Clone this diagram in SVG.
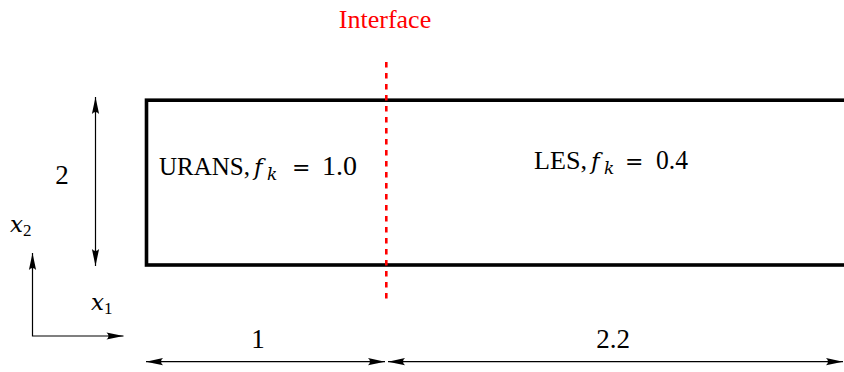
<svg xmlns="http://www.w3.org/2000/svg" width="844" height="372" viewBox="0 0 844 372">
  <style>
    text, tspan { font-family: "Liberation Serif", "Times New Roman", serif; fill: #000; }
    .lbl { font-size: 25px; }
    .num { font-size: 27px; }
    .it { font-family: "DejaVu Serif", serif; font-style: italic; font-size: 23px; }
    .up { font-family: "Liberation Serif", serif; font-style: normal; }
    .sub { font-size: 17px; }
    .eq { font-family: "DejaVu Serif", serif; font-size: 22px; }
    .arrow { stroke: #000; stroke-width: 1.2; fill: none; }
  </style>
  <defs>
    <marker id="ah" markerUnits="userSpaceOnUse" viewBox="-18 -5 19 10" refX="0" refY="0" markerWidth="19" markerHeight="10" orient="auto-start-reverse">
      <path d="M0,0 L-17,-3.6 Q-13,0 -17,3.6 Z" fill="#000"/>
    </marker>
  </defs>

  <g id="domain">
    <rect x="146.5" y="100.2" width="710" height="164.8" fill="none" stroke="#000" stroke-width="3.6"/>
  </g>

  <g id="interface">
    <line x1="386.3" y1="62" x2="386.3" y2="303" stroke="#ff0000" stroke-width="2.6" stroke-dasharray="5.5 5.5"/>
    <text x="385" y="27.5" font-size="26" text-anchor="middle" style="fill:#ff0000">Interface</text>
  </g>

  <g id="urans-label">
    <text class="lbl" y="175"><tspan x="159" textLength="91" lengthAdjust="spacingAndGlyphs">URANS,</tspan><tspan class="it" x="254">f</tspan><tspan class="it sub" x="267" y="180">k</tspan><tspan class="eq" x="292" y="175">=</tspan><tspan class="num" x="322" textLength="35" lengthAdjust="spacingAndGlyphs">1.0</tspan></text>
  </g>

  <g id="les-label">
    <text class="lbl" y="169"><tspan x="534" textLength="53" lengthAdjust="spacingAndGlyphs">LES,</tspan><tspan class="it" x="591">f</tspan><tspan class="it sub" x="604" y="174">k</tspan><tspan class="eq" x="625" y="169">=</tspan><tspan class="num" x="656" textLength="32" lengthAdjust="spacingAndGlyphs">0.4</tspan></text>
  </g>

  <g id="axes">
    <text class="it" x="10" y="232">x<tspan class="sub up" x="23" y="236">2</tspan></text>
    <text class="it" x="91" y="310">x<tspan class="sub up" x="104" y="314">1</tspan></text>
  </g>

  <g id="dim-labels">
    <text class="num" x="62" y="184" text-anchor="middle">2</text>
    <text class="num" x="258" y="348" text-anchor="middle">1</text>
    <text class="num" x="613" y="348" text-anchor="middle">2.2</text>
  </g>

  <g id="connectors">
    <line class="arrow" x1="95.5" y1="97" x2="95.5" y2="266" marker-start="url(#ah)" marker-end="url(#ah)"/>
    <polyline class="arrow" points="32.5,253 32.5,336 123.5,336" marker-start="url(#ah)" marker-end="url(#ah)"/>
    <line class="arrow" x1="146" y1="361.7" x2="385" y2="361.7" marker-start="url(#ah)" marker-end="url(#ah)"/>
    <line class="arrow" x1="388" y1="361.7" x2="843" y2="361.7" marker-start="url(#ah)" marker-end="url(#ah)"/>
  </g>
</svg>
